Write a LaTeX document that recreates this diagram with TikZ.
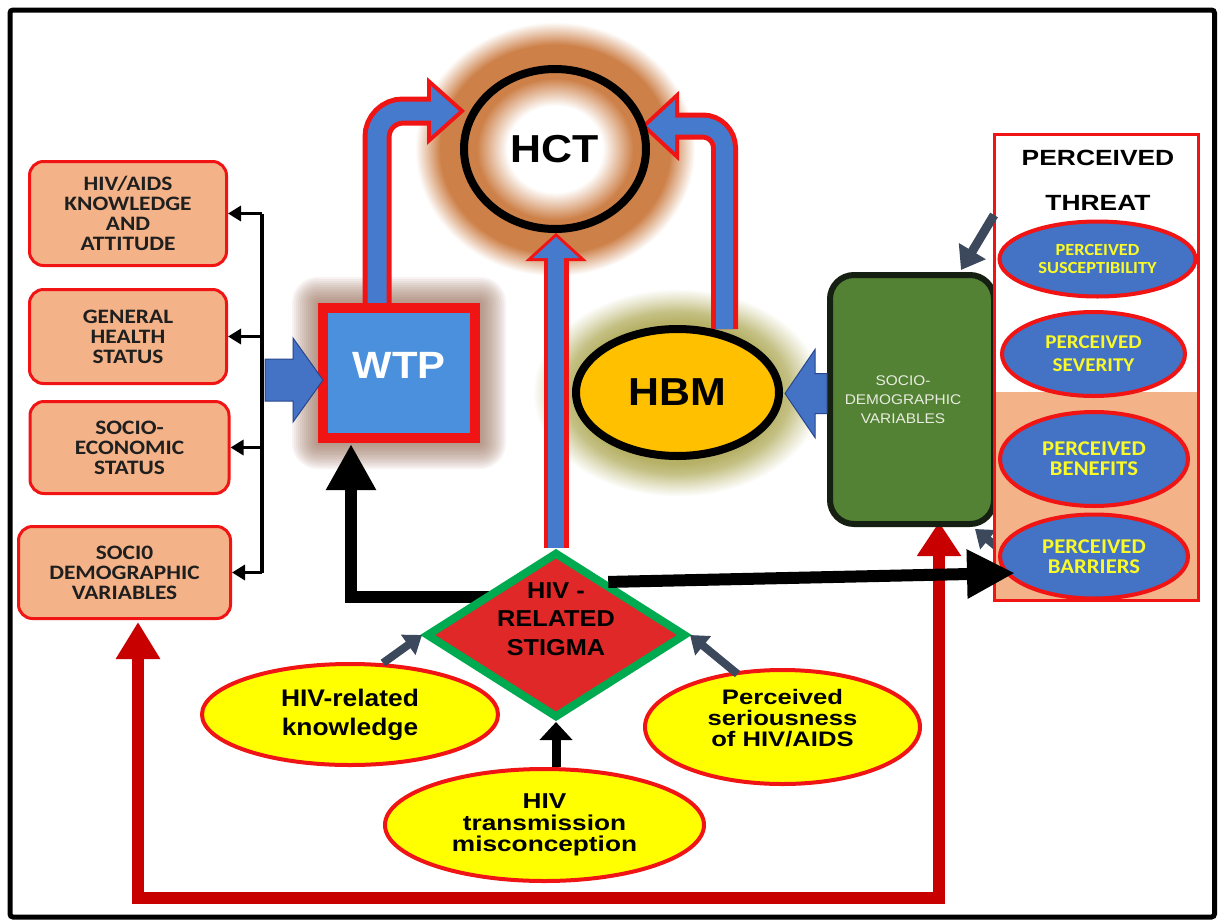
\documentclass[tikz,border=0pt]{standalone}
\usepackage{fontspec}
\setmainfont{Liberation Sans}
\newfontfamily\farl{Liberation Sans}[FakeStretch=1.1]
\newfontfamily\farlw{Liberation Sans}[FakeStretch=1.22]
\newfontfamily\farlt{Liberation Sans}[FakeStretch=1.2]
\newfontfamily\fcal{Carlito}[FakeStretch=1.08]
\newfontfamily\fcalw{Carlito}[FakeStretch=1.14]
\usetikzlibrary{shapes.geometric,arrows.meta,calc}

\definecolor{peach}{RGB}{243,178,136}
\definecolor{bred}{RGB}{240,20,20}
\definecolor{wtpblue}{RGB}{74,144,220}
\definecolor{tubeblue}{RGB}{70,122,205}
\definecolor{arblue}{RGB}{68,114,196}
\definecolor{arblueline}{RGB}{40,70,140}
\definecolor{hctor}{RGB}{205,128,72}
\definecolor{hbmgold}{RGB}{255,192,0}
\definecolor{olivegl}{RGB}{182,177,102}
\definecolor{sdgreen}{RGB}{84,130,53}
\definecolor{sdedge}{RGB}{22,32,18}
\definecolor{ellblue}{RGB}{68,114,196}
\definecolor{stigred}{RGB}{225,40,40}
\definecolor{stiggreen}{RGB}{0,170,80}
\definecolor{yel}{RGB}{255,255,0}
\definecolor{txtyel}{RGB}{250,250,40}
\definecolor{loopred}{RGB}{200,0,0}
\definecolor{slate}{RGB}{60,72,92}
\definecolor{wtpglow}{RGB}{150,105,82}
\definecolor{sdtext}{RGB}{232,236,224}

% radial halos: 25bp is the edge of the shaded path
\pgfdeclareradialshading{hctglow}{\pgfpoint{0bp}{0bp}}{color(0bp)=(white); color(8.5bp)=(white); color(14bp)=(hctor); color(20.5bp)=(hctor); color(25bp)=(white); color(50bp)=(white)}
\pgfdeclareradialshading{hbmglow}{\pgfpoint{0bp}{0bp}}{color(0bp)=(olivegl); color(17bp)=(olivegl); color(19.5bp)=(olivegl!80); color(22.5bp)=(olivegl!35); color(25bp)=(white); color(50bp)=(white)}

\pgfdeclarelayer{glow}
\pgfdeclarelayer{under}
\pgfsetlayers{glow,under,main}

\tikzset{
  kbox/.style={rectangle, rounded corners=14pt, draw=bred, fill=peach, line width=3pt,
    inner sep=0pt, align=center, text=black!88, font=\fcalw\bfseries\fontsize{20.5}{20}\selectfont},
  pell/.style={ellipse, draw=bred, fill=ellblue, line width=4pt, inner sep=0pt, align=center, text=txtyel},
  yell/.style={ellipse, draw=bred, fill=yel, line width=4pt, inner sep=0pt, align=center, text=black},
  tubeo/.style={line width=29pt, draw=bred},
  tubei/.style={line width=19pt, draw=tubeblue},
  blk/.style={line width=12pt, black, line join=miter},
  slatearrow/.style={line width=8pt, slate, -{Triangle[length=17pt,width=24pt]}},
  blockarrow/.style={fill=arblue, draw=arblueline, line width=1pt, line join=miter},
  tick/.style={line width=3.5pt, -{Triangle[length=13pt,width=15pt]}},
}

\begin{document}
\begin{tikzpicture}[x=1pt,y=-1pt]
\useasboundingbox (0,0) rectangle (1219,919);

% ---------- factor boxes on the left
\node[kbox, minimum width=197, minimum height=104] (k1) at (128,213.5) {HIV/AIDS\\KNOWLEDGE\\AND\\ATTITUDE};
\node[kbox, minimum width=197, minimum height=94] (k2) at (128,336.5) {GENERAL\\HEALTH\\STATUS};
\node[kbox, minimum width=199, minimum height=92] (k3) at (129.5,447.5) {SOCIO-\\ECONOMIC\\STATUS};
\node[kbox, minimum width=212, minimum height=92] (k4) at (124.5,572.5) {SOCI0\\DEMOGRAPHIC\\VARIABLES};

% ---------- central constructs
\node[rectangle, draw=bred, fill=wtpblue, line width=10pt, inner sep=0pt,
      minimum width=152, minimum height=130,
      label={[text=white, font=\farl\bfseries\fontsize{38}{38}\selectfont, yshift=8pt]center:WTP}] (wtp) at (399,373) {};
\node[ellipse, draw=black, line width=8pt, inner sep=0pt, minimum width=182, minimum height=160,
      font=\farl\bfseries\fontsize{39}{39}\selectfont] (hct) at (555,149) {HCT};
\node[ellipse, draw=black, fill=hbmgold, line width=8pt, inner sep=0pt, minimum width=203, minimum height=127,
      font=\farl\bfseries\fontsize{39}{39}\selectfont] (hbm) at (677.5,392.5) {HBM};
\node[rectangle, rounded corners=24pt, draw=sdedge, fill=sdgreen, line width=6pt, inner sep=0pt,
      minimum width=164, minimum height=249,
      label={[text=sdtext, font=\farl\fontsize{14}{19}\selectfont, align=center, xshift=-9pt]center:{SOCIO-\\DEMOGRAPHIC\\VARIABLES}}] (soc) at (912,399.5) {};

% ---------- perceived threat panel
\node[rectangle, draw=bred, fill=white, line width=3pt, inner sep=0pt,
      minimum width=204, minimum height=466] (panel) at (1096.5,367.5) {};
\fill[peach] ($(panel.south west)+(3,-210)$) rectangle ($(panel.south east)+(-3,-3)$);
\node[font=\farlt\bfseries\fontsize{22}{45}\selectfont, align=center] (threat) at (1098,180.5) {PERCEIVED\\THREAT};
\node[pell, minimum width=196, minimum height=75, font=\fcal\bfseries\fontsize{17}{18}\selectfont] (sus) at (1097.5,259) {PERCEIVED\\SUSCEPTIBILITY};
\node[pell, minimum width=183, minimum height=84, font=\fcal\bfseries\fontsize{19.5}{23}\selectfont] (sev) at (1093.5,354) {PERCEIVED\\SEVERITY};
\node[pell, minimum width=188, minimum height=94, font=\fcal\bfseries\fontsize{21}{20}\selectfont] (ben) at (1094,459) {PERCEIVED\\BENEFITS};
\node[pell, minimum width=188, minimum height=84, font=\fcal\bfseries\fontsize{21}{20}\selectfont] (bar) at (1094,556.5) {PERCEIVED\\BARRIERS};

% ---------- stigma and its antecedents
\node[diamond, aspect=1.57, draw=stiggreen, fill=stigred, line width=8pt, inner sep=0pt,
      minimum width=260, minimum height=166,
      label={[font=\farl\bfseries\fontsize{23}{28.5}\selectfont, align=center, yshift=16pt]center:{HIV -\\RELATED\\STIGMA}}] (dia) at (556,635) {};
\node[yell, minimum width=296, minimum height=101, font=\farl\bfseries\fontsize{24}{29}\selectfont] (kn) at (350,714.5) {HIV-related\\knowledge};
\node[yell, minimum width=319, minimum height=112, font=\farlw\bfseries\fontsize{21.5}{21.7}\selectfont] (tm) at (544.5,825) {HIV\\transmission\\misconception};
\node[yell, minimum width=275, minimum height=114,
      label={[font=\farlw\bfseries\fontsize{21}{21}\selectfont, align=center, yshift=9pt]center:{Perceived\\seriousness\\of HIV/AIDS}}] (ser) at (782.5,727) {};

% ---------- soft halos behind the constructs
\begin{pgfonlayer}{glow}
  \fill[white] (0,0) rectangle (1219,919);
  \shade[shading=hctglow] (hct.center) ellipse (140 and 127);
  \shade[shading=hbmglow] (hbm.center) ellipse (145 and 104);
  \foreach \gw in {2,4,...,26}
    \fill[wtpglow, opacity=0.075, rounded corners=\gw pt]
      ($(wtp.north west)+(-\gw,-\gw)$) rectangle ($(wtp.south east)+(\gw,\gw)$);
\end{pgfonlayer}

% ---------- connectors running under the shapes
\begin{pgfonlayer}{under}
  % WTP -> HCT
  \coordinate (t1s) at ($(wtp.north)+(-22,0)$);
  \coordinate (t1e) at ($(hct.west)+(-1,-38)$);
  \draw[tubeo, rounded corners=26pt] (t1s) |- ($(t1e)+(-25,0)$);
  \filldraw[draw=bred, fill=bred, line width=8pt, line join=miter]
    ($(t1e)+(-28,-25)$) -- (t1e) -- ($(t1e)+(-28,25)$) -- cycle;
  \draw[tubei, rounded corners=26pt] (t1s) |- ($(t1e)+(-25,0)$);
  \fill[tubeblue] ($(t1e)+(-28,-25)$) -- (t1e) -- ($(t1e)+(-28,25)$) -- cycle;
  % HBM -> HCT
  \coordinate (t2s) at ($(hbm.north)+(47,4)$);
  \coordinate (t2e) at ($(hct.east)+(-3,-23)$);
  \draw[line width=27pt, bred, rounded corners=22pt] (t2s) |- ($(t2e)+(25,0)$);
  \filldraw[draw=bred, fill=bred, line width=8pt, line join=miter]
    ($(t2e)+(28,-26)$) -- (t2e) -- ($(t2e)+(28,26)$) -- cycle;
  \draw[line width=17pt, tubeblue, rounded corners=22pt] (t2s) |- ($(t2e)+(25,0)$);
  \fill[tubeblue] ($(t2e)+(28,-26)$) -- (t2e) -- ($(t2e)+(28,26)$) -- cycle;
  % stigma -> HCT
  \coordinate (t3e) at ($(hct.south)+(1,4)$);
  \draw[line width=25pt, bred] (dia.north) -- ($(t3e)+(0,19)$);
  \filldraw[draw=bred, fill=bred, line width=6pt, line join=miter]
    ($(t3e)+(-23,21)$) -- (t3e) -- ($(t3e)+(23,21)$) -- cycle;
  \draw[line width=16pt, tubeblue] (dia.north) -- ($(t3e)+(0,19)$);
  \fill[tubeblue] ($(t3e)+(-23,21)$) -- (t3e) -- ($(t3e)+(23,21)$) -- cycle;
  % stigma -> WTP
  \draw[blk, -{Triangle[length=46pt,width=47pt]}] ($(dia.center)+(-60,-38)$) -| ($(wtp.south)+(-48,1)$);
  % socio-demographic feedback loop
  \draw[line width=12.5pt, loopred, line join=miter,
        {Triangle[length=37pt,width=42pt]}-{Triangle[length=34pt,width=42pt]}]
    ($(k4.south)+(13.5,2)$) |- ($(soc.south)+(27,371)$) -- ($(soc.south)+(27,-5)$);
  % barriers -> socio-demographic box
  \draw[slatearrow] (1003,552) -- ($(soc.south east)+(-22,2)$);
\end{pgfonlayer}

% ---------- bracket linking the left boxes
\coordinate (bus) at (262,0);
\draw[line width=3.5pt] (k1.east -| bus) -- (k4.east -| bus);
\foreach \k in {k1,k2,k3,k4}
  \draw[tick] (\k.east -| bus) -- (\k.east);

% ---------- block arrows
\coordinate (ba1) at ($(wtp.west)+(5,7)$);
\draw[blockarrow] ($(ba1)+(-58,-21)$) -- ($(ba1)+(-30,-21)$) -- ($(ba1)+(-30,-42)$) -- (ba1)
  -- ($(ba1)+(-30,42)$) -- ($(ba1)+(-30,21)$) -- ($(ba1)+(-58,21)$) -- cycle;
\coordinate (ba2) at ($(soc.west)+(-42,-6)$);
\draw[blockarrow] ($(ba2)+(42,-20)$) -- ($(ba2)+(30,-20)$) -- ($(ba2)+(30,-44)$) -- (ba2)
  -- ($(ba2)+(30,44)$) -- ($(ba2)+(30,20)$) -- ($(ba2)+(42,20)$) -- cycle;

% ---------- remaining arrows
\draw[line width=9pt, slate, -{Triangle[length=22pt,width=30pt]}]
  ($(panel.north west)+(1,82)$) -- ($(soc.north east)+(-36,-2)$);
\draw[blk, -{Triangle[length=48pt,width=46pt]}]
  ($(dia.north)!0.39!(dia.east)$) -- ($(bar.west)+(17,16.5)$);
\draw[slatearrow] ($(kn.north)+(33,1)$) -- (dia.west);
\draw[slatearrow] ($(ser.north)+(-45,6)$) -- (dia.east);
\draw[line width=9pt, black, -{Triangle[length=18pt,width=32pt]}] (tm.north -| dia.south) -- (dia.south);

% ---------- outer frame
\draw[line width=5pt, rounded corners=3pt] (10,10) rectangle (1214.5,917);
\end{tikzpicture}
\end{document}
